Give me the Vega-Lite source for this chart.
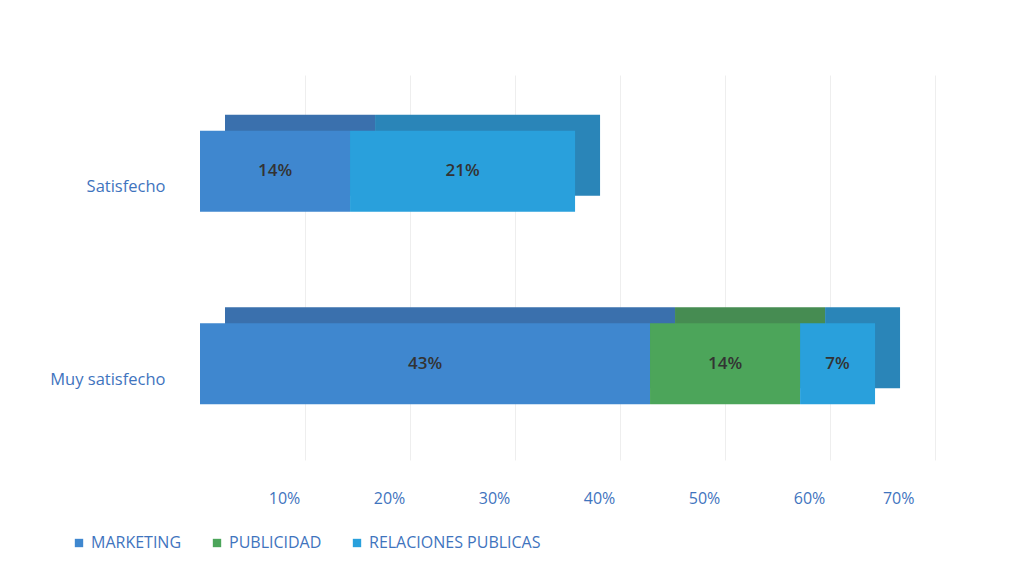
{
  "$schema": "https://vega.github.io/schema/vega-lite/v6.json",
  "autosize": {"type": "none"},
  "width": 735,
  "height": 385,
  "padding": {"left": 200, "top": 75, "right": 99, "bottom": 115},
  "background": "white",
  "config": {
    "font": "Open Sans",
    "view": {"stroke": null}
  },
  "data": {
    "values": [
      {"cat": "Satisfecho", "serie": "MARKETING", "k": 1, "v": 0.1429, "lab": "14%"},
      {"cat": "Satisfecho", "serie": "RELACIONES PUBLICAS", "k": 3, "v": 0.2143, "lab": "21%"},
      {"cat": "Muy satisfecho", "serie": "MARKETING", "k": 1, "v": 0.4286, "lab": "43%"},
      {"cat": "Muy satisfecho", "serie": "PUBLICIDAD", "k": 2, "v": 0.1429, "lab": "14%"},
      {"cat": "Muy satisfecho", "serie": "RELACIONES PUBLICAS", "k": 3, "v": 0.0714, "lab": "7%"}
    ]
  },
  "encoding": {
    "y": {
      "field": "cat", "type": "nominal",
      "sort": ["Satisfecho", "Muy satisfecho"],
      "scale": {"paddingInner": 0.58, "paddingOuter": 0.29},
      "axis": {"title": null, "domain": false, "ticks": false, "labelFontSize": 16.5, "labelColor": "#3f74be", "labelPadding": 35, "labelOffset": 16, "labelFont": "Open Sans"}
    }
  },
  "layer": [
    {
      "mark": {"type": "bar", "xOffset": 25, "x2Offset": 25, "yOffset": -16},
      "encoding": {
        "x": {"field": "v", "type": "quantitative", "stack": "zero", "scale": {"domain": [0, 0.7]},
          "axis": {"title": null, "format": ".0%", "values": [0.1, 0.2, 0.3, 0.4, 0.5, 0.6, 0.7], "domain": false, "ticks": false, "grid": true, "gridColor": "#eeeeee", "labelFontSize": 16, "labelColor": "#3f74be", "labelPadding": 30, "labelOffset": -21, "labelFont": "Open Sans"}},
        "order": {"field": "k", "type": "quantitative"},
        "color": {"field": "serie", "type": "nominal", "legend": null,
          "scale": {"domain": ["MARKETING", "PUBLICIDAD", "RELACIONES PUBLICAS"], "range": ["#3a70ad", "#468c52", "#2a85b8"]}}
      }
    },
    {
      "mark": {"type": "bar"},
      "encoding": {
        "x": {"field": "v", "type": "quantitative", "stack": "zero"},
        "order": {"field": "k", "type": "quantitative"},
        "color": {"field": "serie", "type": "nominal",
          "scale": {"domain": ["MARKETING", "PUBLICIDAD", "RELACIONES PUBLICAS"], "range": ["#3f87cf", "#4ca55a", "#29a0dc"]},
          "legend": {"title": null, "orient": "none", "direction": "horizontal", "legendX": -129, "legendY": 460, "symbolType": "square", "symbolSize": 70, "labelFontSize": 16, "labelLimit": 400, "labelColor": "#3f74be", "labelFont": "Open Sans", "columnPadding": 27, "labelOffset": 4}}
      }
    },
    {
      "mark": {"type": "text", "fontSize": 17, "fontWeight": 600, "color": "#333333", "align": "center", "baseline": "middle"},
      "encoding": {
        "x": {"field": "v", "type": "quantitative", "stack": "zero", "bandPosition": 0.5},
        "order": {"field": "k", "type": "quantitative"},
        "text": {"field": "lab"}
      }
    }
  ],
  "resolve": {"scale": {"color": "independent"}}
}
